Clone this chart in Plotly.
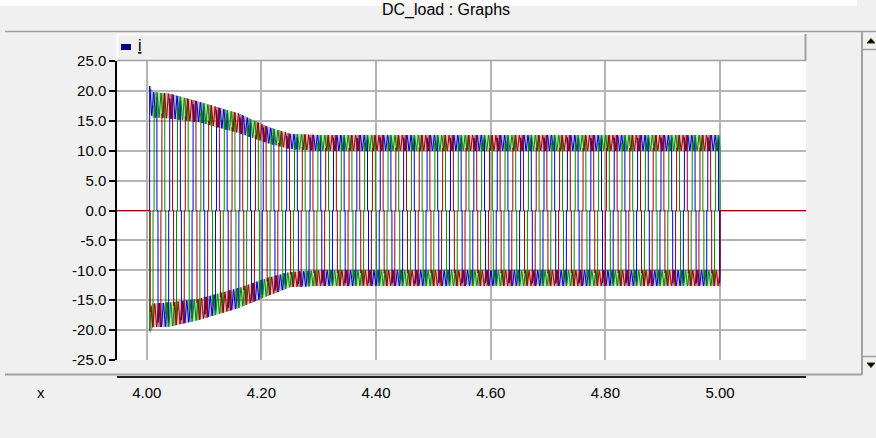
import numpy as np
import plotly.graph_objects as go

# ---- values ----
x_ticks = [4.00, 4.20, 4.40, 4.60, 4.80, 5.00]
y_ticks = [25.0, 20.0, 15.0, 10.0, 5.0, 0.0, -5.0, -10.0, -15.0, -20.0, -25.0]

# envelope of the current (outer edge / inner edge of ripple band), A
env_t      = [4.005, 4.010, 4.040, 4.090, 4.160, 4.210, 4.250, 4.300, 5.000]
top_edge   = [20.8, 19.8, 19.5, 18.2, 16.2, 14.0, 12.8, 12.6, 12.6]
top_inner  = [16.5, 15.6, 15.4, 14.8, 13.0, 11.3, 10.3, 10.0, 10.0]
bot_edge   = [-20.5, -19.5, -19.4, -18.3, -16.3, -14.3, -12.8, -12.6, -12.6]
bot_inner  = [-16.5, -15.6, -15.4, -14.8, -13.0, -11.3, -10.3, -10.0, -10.0]

t_on, t_off = 4.005, 5.000          # load connected / disconnected (s)
f_app = 24.5
dead_deg = 16.0                      # short zero dwell between polarities
start_angle_deg = 60.0
phase_names = ["ia", "ib", "ic"]
phase_colors = ["#0000c8", "#008a00", "#a00000"]
phase_shift_deg = [0.0, 120.0, 240.0]

x_range = [3.948, 5.150]
dt = 0.0001

# ---- build traces ----
t = np.round(np.arange(x_range[0], x_range[1] + dt, dt), 6)
n = len(t)
active = (t >= t_on) & (t <= t_off)
up = np.interp(t, env_t, top_edge)
upi = np.interp(t, env_t, top_inner)
dn = np.interp(t, env_t, bot_edge)
dni = np.interp(t, env_t, bot_inner)
theta = 360.0 * f_app * (t - t_on) + start_angle_deg
alt = (np.arange(n) % 2).astype(float)   # fast alternation for shaded band

fig = go.Figure()
main, shade = [], []
for k, (name, col, sh) in enumerate(zip(phase_names, phase_colors, phase_shift_deg)):
    m = np.mod(theta - sh, 360.0)
    pos_on = (m >= dead_deg / 2) & (m < 180 - dead_deg / 2)
    neg_on = (m >= 180 + dead_deg / 2) & (m < 360 - dead_deg / 2)
    sgn = np.where(active & pos_on, 1, np.where(active & neg_on, -1, 0))
    rip = 0.5 * (1 - np.cos(np.deg2rad(6 * (theta - sh) + 40 * k)))
    y = np.where(sgn > 0, up - (up - upi) * rip,
                 np.where(sgn < 0, dn - (dn - dni) * rip, 0.0))
    ys = np.where(sgn > 0, up - (up - upi) * alt,
                  np.where(sgn < 0, dn - (dn - dni) * alt, np.nan))
    brk = np.r_[False, sgn[1:] != sgn[:-1]]
    ys[brk] = np.nan
    shade.append(go.Scatter(x=t, y=ys, mode="lines", line=dict(color=col, width=1),
                            opacity=0.28, showlegend=False, hoverinfo="skip",
                            connectgaps=False))
    main.append(go.Scatter(x=t, y=y, mode="lines", name=name,
                           line=dict(color=col, width=1), showlegend=False,
                           hoverinfo="skip"))
for tr in shade + main:
    fig.add_trace(tr)

# ---- layout helpers (pixel -> paper) ----
L, R, T, B = 117, 806, 61, 377
W, H = 876, 438
def xp(p):
    return (p - L) / (R - L)
def yp(q):
    return (B - q) / (B - T)

FONT = "Liberation Sans, Arial, sans-serif"
grid_col = "#b4b4b4"

shapes = []
def line(x0, y0, x1, y1, color="#a0a0a0", width=1):
    shapes.append(dict(type="line", xref="paper", yref="paper",
                       x0=xp(x0), y0=yp(y0), x1=xp(x1), y1=yp(y1),
                       line=dict(color=color, width=width), layer="above"))
def rect(x0, y0, x1, y1, fill, layer="below"):
    shapes.append(dict(type="rect", xref="paper", yref="paper",
                       x0=xp(x0), y0=yp(y0), x1=xp(x1), y1=yp(y1),
                       fillcolor=fill, line=dict(color=fill, width=0),
                       layer=layer))

rect(0, 0, 857, 6, "#ffffff")
line(5, 31.5, 876, 31.5, "#a0a0a0", 1.5)
# legend bar
rect(117, 34, 806, 61, "#f0f0f0")
line(117, 34.5, 806, 34.5, "#ffffff", 1.5)
line(117.5, 34, 117.5, 61, "#ffffff", 1.5)
line(805.5, 34, 805.5, 61, "#a0a0a0", 2)
line(117, 60.5, 806, 60.5, "#a0a0a0", 1.5)
rect(121, 44, 131, 50, "#000080", layer="above")
# separator below plot
line(5, 374.5, 862, 374.5, "#a0a0a0", 2)
# scrollbar
line(862, 31, 862, 375, "#a0a0a0", 2)
line(862, 49.5, 876, 49.5, "#a0a0a0", 1.5)
line(862, 356.5, 876, 356.5, "#a0a0a0", 1.5)
shapes.append(dict(type="path", xref="paper", yref="paper",
                   path=f"M {xp(867)},{yp(43)} L {xp(875)},{yp(43)} L {xp(871)},{yp(38.5)} Z",
                   fillcolor="#000000", line=dict(color="#303000", width=1), layer="above"))
shapes.append(dict(type="path", xref="paper", yref="paper",
                   path=f"M {xp(867)},{yp(363)} L {xp(875)},{yp(363)} L {xp(871)},{yp(367.5)} Z",
                   fillcolor="#000000", line=dict(color="#303000", width=1), layer="above"))

annotations = [
    dict(text="DC_load : Graphs", xref="paper", yref="paper", x=xp(446), y=yp(10),
         showarrow=False, font=dict(family=FONT, size=16, color="#000000"),
         xanchor="center", yanchor="middle"),
    dict(text="<u>i</u>", xref="paper", yref="paper", x=xp(136), y=yp(46),
         showarrow=False, font=dict(family=FONT, size=16, color="#000000"),
         xanchor="left", yanchor="middle"),
    dict(text="x", xref="paper", yref="paper", x=xp(41), y=yp(392),
         showarrow=False, font=dict(family=FONT, size=15, color="#000000"),
         xanchor="center", yanchor="middle"),
]

fig.update_layout(
    width=W, height=H,
    margin=dict(l=L, r=W - R, t=T, b=H - B, pad=0),
    paper_bgcolor="#f0f0f0", plot_bgcolor="#ffffff",
    font=dict(family=FONT, size=15, color="#000000"),
    showlegend=False,
    shapes=shapes, annotations=annotations,
    xaxis=dict(range=x_range, tickvals=x_ticks, ticktext=[f"{v:.2f}" for v in x_ticks],
               showgrid=True, gridcolor=grid_col, gridwidth=1.5, zeroline=False,
               anchor="free", position=0, showline=True, linecolor="#202020", linewidth=2,
               ticks="", ticklabelstandoff=2, tickfont=dict(family=FONT, size=15)),
    yaxis=dict(range=[-25, 25], tickvals=y_ticks, ticktext=[f"{v:.1f}" for v in y_ticks],
               domain=[yp(360), 1], showgrid=True, gridcolor=grid_col, gridwidth=1.5,
               zeroline=False, showline=True, linecolor="#000000", linewidth=1.5,
               ticks="outside", ticklen=6, tickcolor="#000000", tickwidth=1.5,
               tickfont=dict(family=FONT, size=15)),
)

fig.write_html("out.html", config={"displayModeBar": False},
               post_script="document.body.style.margin='0px';")
